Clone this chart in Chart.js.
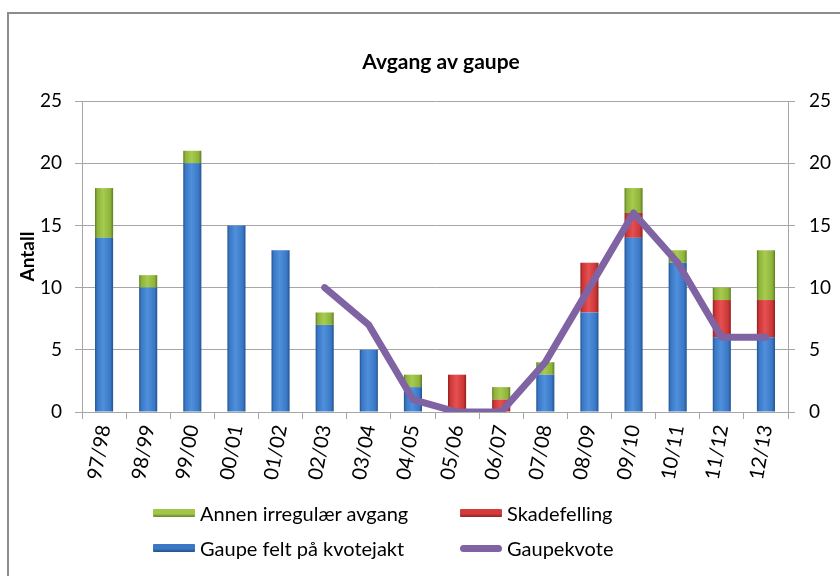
<!DOCTYPE html>
<html>
<head>
<meta charset="utf-8">
<script src="https://cdn.jsdelivr.net/npm/chart.js@4"></script>
<style>
  html, body { margin: 0; padding: 0; background: #fff; overflow: hidden; }
  #wrap { position: relative; width: 840px; height: 576px; }
  #frame { position: absolute; left: 7px; top: 12px; width: 900px; height: 700px; border: 2px solid #8c8c8c; box-sizing: border-box; }
  canvas { position: absolute; left: 0; top: 0; }
  .leg { position: absolute; font-family: Lato, sans-serif; font-size: 20px; color: #000; display: flex; align-items: center; white-space: nowrap; }
  .sw { width: 42px; height: 8px; margin-right: 5px; border-radius: 1px; }
</style>
</head>
<body>
<div id="wrap">
  <div id="frame"></div>
  <canvas id="c" width="840" height="576"></canvas>
  <div id="legend"></div>
</div>
<script>
const categories = ['97/98','98/99','99/00','00/01','01/02','02/03','03/04','04/05','05/06','06/07','07/08','08/09','09/10','10/11','11/12','12/13'];
const kvotejakt = [14, 10, 20, 15, 13, 7, 5, 2, 0, 0, 3, 8, 14, 12, 6, 6];
const skadefelling = [0, 0, 0, 0, 0, 0, 0, 0, 3, 1, 0, 4, 2, 0, 3, 3];
const annen = [4, 1, 1, 0, 0, 1, 0, 1, 0, 1, 1, 0, 2, 1, 1, 4];
const gaupekvote = [null, null, null, null, null, 10, 7, 1, 0, 0, 4, 10, 16, 12, 6, 6];
const yTicks = [0, 5, 10, 15, 20, 25];
const chartTitle = 'Avgang av gaupe';

Chart.defaults.font.family = 'Lato, sans-serif';
Chart.defaults.color = '#000';

const BAR_PCT = 0.41;
function barGradient(dark, mid, light) {
  return function (ctx) {
    const chart = ctx.chart;
    const xs = chart.scales && chart.scales.x;
    if (!xs || !chart.chartArea || ctx.dataIndex === undefined) return mid;
    const cx = xs.getPixelForValue(ctx.dataIndex);
    const w = (xs.width / categories.length) * BAR_PCT;
    const g = chart.ctx.createLinearGradient(cx - w / 2, 0, cx + w / 2, 0);
    g.addColorStop(0, dark);
    g.addColorStop(0.12, mid);
    g.addColorStop(0.45, light);
    g.addColorStop(0.85, mid);
    g.addColorStop(1, dark);
    return g;
  };
}

const series = [
  { label: 'Gaupe felt på kvotejakt', data: kvotejakt, colors: ['#21528f', '#3a78c6', '#4f8fdb'], legendColor: '#3a78c6' },
  { label: 'Skadefelling', data: skadefelling, colors: ['#8f1f1f', '#cc3636', '#e55050'], legendColor: '#d43b3b' },
  { label: 'Annen irregulær avgang', data: annen, colors: ['#5f7d1f', '#8db33a', '#a6cb4f'], legendColor: '#a0c746' }
];

const datasets = series.map(s => ({
  type: 'bar',
  label: s.label,
  data: s.data,
  backgroundColor: barGradient(s.colors[0], s.colors[1], s.colors[2]),
  borderWidth: 0,
  barPercentage: BAR_PCT,
  categoryPercentage: 1,
  stack: 'a',
  yAxisID: 'y',
  order: 1
}));
datasets.push({
  type: 'line',
  label: 'Gaupekvote',
  data: gaupekvote,
  borderColor: '#7f63a3',
  borderWidth: 7,
  pointRadius: 0,
  pointHoverRadius: 0,
  tension: 0,
  fill: false,
  borderCapStyle: 'round',
  borderJoinStyle: 'round',
  spanGaps: false,
  yAxisID: 'y1',
  order: 0
});

const titlePlugin = {
  id: 'fixedTitle',
  afterDraw(chart) {
    const c = chart.ctx;
    c.save();
    c.font = 'bold 21px Lato, sans-serif';
    c.fillStyle = '#000';
    c.textAlign = 'center';
    c.textBaseline = 'middle';
    c.fillText(chartTitle, 441, 62);
    c.restore();
  }
};

const gridColor = '#a6a6a6';
new Chart(document.getElementById('c'), {
  data: { labels: categories, datasets },
  plugins: [titlePlugin],
  options: {
    responsive: false,
    animation: false,
    layout: { padding: { top: 101, left: 0, right: 0, bottom: 0 } },
    plugins: {
      legend: { display: false },
      tooltip: { enabled: false },
      title: { display: false }
    },
    scales: {
      x: {
        stacked: true,
        grid: { display: true, drawOnChartArea: false, drawTicks: true, tickLength: 7, color: gridColor, offset: true },
        border: { display: true, color: gridColor, width: 1 },
        ticks: { minRotation: 80, maxRotation: 80, autoSkip: false, padding: 4, font: { size: 20 } },
        afterFit: s => { s.height = 164; }
      },
      y: {
        position: 'left',
        stacked: true,
        min: 0, max: 25,
        afterBuildTicks: s => { s.ticks = yTicks.map(v => ({ value: v })); },
        grid: { color: gridColor, tickLength: 7, drawTicks: true },
        border: { display: true, color: gridColor },
        ticks: { padding: 13, font: { size: 19 } },
        title: { display: true, text: 'Antall', font: { size: 19, weight: 'bold' }, padding: { top: 16, bottom: 0 } },
        afterFit: s => { s.width = 82; }
      },
      y1: {
        position: 'right',
        min: 0, max: 25,
        afterBuildTicks: s => { s.ticks = yTicks.map(v => ({ value: v })); },
        grid: { drawOnChartArea: false, color: gridColor, tickLength: 7, drawTicks: true },
        border: { display: true, color: gridColor },
        ticks: { padding: 14, font: { size: 19 } },
        afterFit: s => { s.width = 52; }
      }
    }
  }
});

// HTML legend (2 x 2 grid like the reference)
const legendItems = [
  { text: 'Annen irregulær avgang', color: series[2].legendColor, x: 153, y: 513, line: false },
  { text: 'Skadefelling', color: series[1].legendColor, x: 460, y: 513, line: false },
  { text: 'Gaupe felt på kvotejakt', color: series[0].legendColor, x: 153, y: 548, line: false },
  { text: 'Gaupekvote', color: '#7f63a3', x: 460, y: 548, line: true }
];
const legendEl = document.getElementById('legend');
legendItems.forEach(it => {
  const d = document.createElement('div');
  d.className = 'leg';
  d.style.left = it.x + 'px';
  d.style.top = (it.y - 12) + 'px';
  d.style.height = '24px';
  const sw = document.createElement('span');
  sw.className = 'sw';
  if (it.line) {
    sw.style.background = it.color;
    sw.style.height = '7px';
    sw.style.borderRadius = '4px';
  } else {
    sw.style.background = 'linear-gradient(to bottom, ' + it.color + ' 0%, ' + it.color + ' 60%, rgba(0,0,0,0.35) 100%)';
    sw.style.backgroundColor = it.color;
  }
  const t = document.createElement('span');
  t.textContent = it.text;
  d.appendChild(sw);
  d.appendChild(t);
  legendEl.appendChild(d);
});
</script>
</body>
</html>
